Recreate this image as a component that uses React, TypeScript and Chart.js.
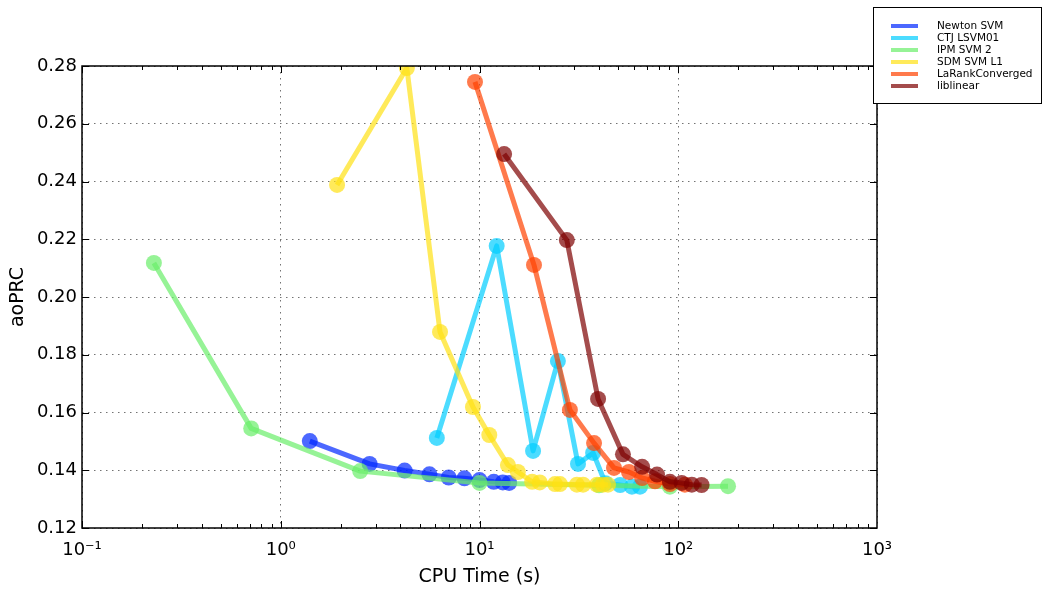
import { useEffect, useRef } from 'react';
import { Chart, registerables } from 'chart.js';

Chart.register(...registerables);

const seriesNames = ['Newton SVM', 'CTJ LSVM01', 'IPM SVM 2', 'SDM SVM L1', 'LaRankConverged', 'liblinear'];
const seriesColors = [
  'rgba(0,40,255,0.7)',
  'rgba(0,205,255,0.7)',
  'rgba(105,238,105,0.7)',
  'rgba(255,225,20,0.7)',
  'rgba(255,65,0,0.7)',
  'rgba(125,0,0,0.7)',
];

const newtonTime = [1.4, 2.8, 4.2, 5.6, 7.0, 8.4, 10.0, 11.8, 13.1, 14.1];
const newtonAoprc = [0.1501, 0.1422, 0.1399, 0.1386, 0.1375, 0.1372, 0.1366, 0.1360, 0.1358, 0.1356];

const ctjTime = [6.1, 12.2, 18.6, 24.8, 31.3, 37.3, 43.0, 51.0, 58.5, 64.2];
const ctjAoprc = [0.1512, 0.2177, 0.1467, 0.1778, 0.1422, 0.1460, 0.1355, 0.1349, 0.1343, 0.1343];

const ipmTime = [0.23, 0.71, 2.51, 10.0, 40.0, 90.8, 178.0];
const ipmAoprc = [0.2118, 0.1545, 0.1397, 0.1356, 0.1348, 0.1343, 0.1345];

const sdmTime = [1.92, 4.31, 6.33, 9.27, 11.2, 13.9, 15.6, 18.4, 20.1, 24.0, 25.4, 30.9, 33.2, 39.0, 41.8, 44.3];
const sdmAoprc = [0.2388, 0.2793, 0.1879, 0.1619, 0.1522, 0.1418, 0.1394, 0.1360, 0.1358, 0.1352, 0.1352, 0.1350, 0.1350, 0.1350, 0.1350, 0.1350];

const larankTime = [9.49, 18.8, 28.5, 37.7, 47.5, 56.5, 65.8, 76.4, 90.8, 108.0];
const larankAoprc = [0.2745, 0.2111, 0.1609, 0.1494, 0.1408, 0.1394, 0.1373, 0.1362, 0.1352, 0.1350];

const liblinearTime = [13.3, 27.5, 39.5, 52.7, 65.8, 78.2, 90.8, 104.0, 117.0, 131.0];
const liblinearAoprc = [0.2495, 0.2197, 0.1647, 0.1455, 0.1412, 0.1385, 0.1360, 0.1356, 0.1350, 0.1349];

const seriesTimes = [newtonTime, ctjTime, ipmTime, sdmTime, larankTime, liblinearTime];
const seriesValues = [newtonAoprc, ctjAoprc, ipmAoprc, sdmAoprc, larankAoprc, liblinearAoprc];

const xTickValues = [0.1, 1, 10, 100, 1000];
const xTickLabels = ['10\u207B\u00B9', '10\u2070', '10\u00B9', '10\u00B2', '10\u00B3'];
const yTickValues = [0.12, 0.14, 0.16, 0.18, 0.2, 0.22, 0.24, 0.26, 0.28];

const FONT = "'DejaVu Sans', sans-serif";

const isDecade = (v: number) => {
  const l = Math.log10(v);
  return Math.abs(l - Math.round(l)) < 1e-6;
};

const framePlugin = {
  id: 'framePlugin',
  afterDatasetsDraw(chart: any) {
    const { ctx, chartArea } = chart;
    const { left, right, top, bottom } = chartArea;
    const xs = chart.scales.x;
    const ys = chart.scales.y;
    ctx.save();
    ctx.strokeStyle = '#000';
    ctx.lineWidth = 1;
    // x tick marks (inward, bottom & top)
    for (let e = -1; e < 3; e++) {
      for (let m = 1; m <= 9; m++) {
        const v = m * Math.pow(10, e);
        const px = Math.round(xs.getPixelForValue(v)) + 0.5;
        const len = m === 1 ? 7 : 4;
        ctx.beginPath();
        ctx.moveTo(px, bottom);
        ctx.lineTo(px, bottom - len);
        ctx.moveTo(px, top);
        ctx.lineTo(px, top + len);
        ctx.stroke();
      }
    }
    // y tick marks (inward, left & right)
    yTickValues.forEach((v) => {
      const py = Math.round(ys.getPixelForValue(v)) + 0.5;
      ctx.beginPath();
      ctx.moveTo(left, py);
      ctx.lineTo(left + 7, py);
      ctx.moveTo(right, py);
      ctx.lineTo(right - 7, py);
      ctx.stroke();
    });
    // frame
    ctx.lineWidth = 1.5;
    ctx.strokeRect(left, top, right - left, bottom - top);

    // legend
    const lx = 873, ly = 7, lw = 168, lh = 96;
    ctx.fillStyle = '#fff';
    ctx.fillRect(lx, ly, lw, lh);
    ctx.lineWidth = 1;
    ctx.strokeStyle = '#000';
    ctx.strokeRect(lx + 0.5, ly + 0.5, lw, lh);
    ctx.font = `10.5px ${FONT}`;
    ctx.textBaseline = 'middle';
    ctx.textAlign = 'left';
    seriesNames.forEach((name, i) => {
      const y = 26 + i * 12;
      ctx.strokeStyle = seriesColors[i];
      ctx.lineWidth = 4;
      ctx.beginPath();
      ctx.moveTo(891, y);
      ctx.lineTo(918, y);
      ctx.stroke();
      ctx.fillStyle = '#000';
      ctx.fillText(name, 937, y);
    });
    ctx.restore();
  },
};

export default function App() {
  const canvasRef = useRef<HTMLCanvasElement | null>(null);

  useEffect(() => {
    if (!canvasRef.current) return;
    const datasets = seriesNames.map((name, i) => ({
      label: name,
      data: seriesTimes[i].map((t, j) => ({ x: t, y: seriesValues[i][j] })),
      showLine: true,
      borderColor: seriesColors[i],
      backgroundColor: seriesColors[i],
      pointBackgroundColor: seriesColors[i],
      pointBorderWidth: 0,
      pointRadius: 8,
      borderWidth: 5,
      borderJoinStyle: 'round' as const,
      clip: 0,
      order: seriesNames.length - i,
    }));

    const chart = new Chart(canvasRef.current, {
      type: 'scatter',
      data: { datasets },
      plugins: [framePlugin],
      options: {
        animation: false,
        responsive: false,
        events: [],
        layout: { padding: { left: 0, right: 166, top: 66, bottom: 0 } },
        plugins: { legend: { display: false }, tooltip: { enabled: false } },
        scales: {
          x: {
            type: 'logarithmic',
            min: 0.1,
            max: 1000,
            afterFit: (s: any) => { s.height = 64; },
            border: { display: false, dash: [1.5, 4.5] },
            grid: {
              drawTicks: false,
              lineWidth: 1,
              color: (c: any) => (c.tick && isDecade(c.tick.value) ? 'rgba(0,0,0,0.55)' : 'rgba(0,0,0,0)'),
            },
            ticks: {
              autoSkip: false,
              maxRotation: 0,
              minRotation: 0,
              padding: 12,
              color: '#000',
              font: { family: FONT, size: 18 },
              callback: (v: any) => {
                const idx = xTickValues.findIndex((t) => Math.abs(Math.log10(t) - Math.log10(Number(v))) < 1e-6);
                return idx >= 0 ? xTickLabels[idx] : '';
              },
            },
            title: {
              display: true,
              text: 'CPU Time (s)',
              color: '#000',
              font: { family: FONT, size: 19 },
              padding: { top: 0, bottom: 4 },
            },
          },
          y: {
            type: 'linear',
            min: 0.12,
            max: 0.28,
            afterFit: (s: any) => { s.width = 82; },
            afterBuildTicks: (s: any) => { s.ticks = yTickValues.map((v) => ({ value: v })); },
            border: { display: false, dash: [1.5, 4.5] },
            grid: { drawTicks: false, lineWidth: 1, color: 'rgba(0,0,0,0.55)' },
            ticks: {
              padding: 5,
              color: '#000',
              font: { family: FONT, size: 18 },
              callback: (v: any) => Number(v).toFixed(2),
            },
            title: {
              display: true,
              text: 'aoPRC',
              color: '#000',
              font: { family: FONT, size: 19 },
              padding: { top: 7, bottom: 0 },
            },
          },
        },
      },
    } as any);
    return () => chart.destroy();
  }, []);

  return (
    <div style={{ position: 'absolute', left: 0, top: 0, width: 1043, height: 592, background: '#fff' }}>
      <canvas ref={canvasRef} width={1043} height={592} style={{ display: 'block' }} />
    </div>
  );
}
